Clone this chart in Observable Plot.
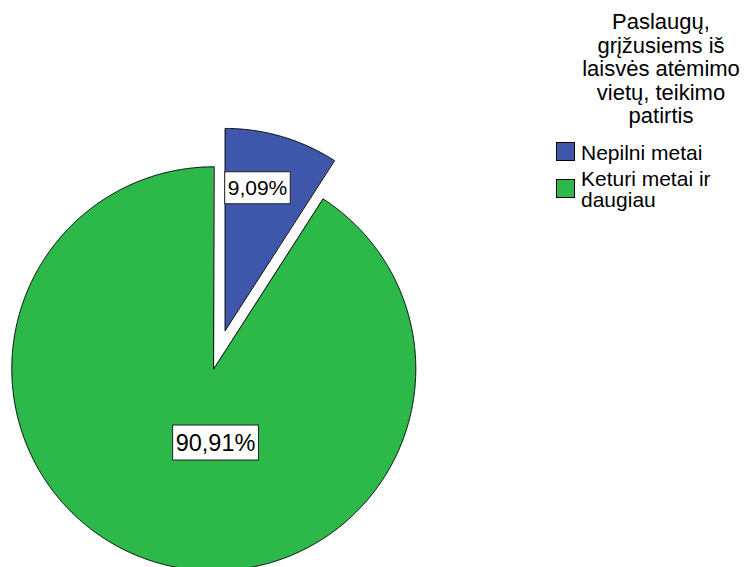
<!DOCTYPE html>
<html>
<head>
<meta charset="utf-8">
<script src="https://cdn.jsdelivr.net/npm/d3@7"></script>
<script src="https://cdn.jsdelivr.net/npm/@observablehq/plot@0.6"></script>
<style>
  html, body { margin: 0; padding: 0; background: #fff; }
  #wrap { position: relative; width: 748px; height: 567px; overflow: hidden;
          font-family: "Liberation Sans", Arial, sans-serif; color: #000; }
  #chart { position: absolute; left: 0; top: 0; }
  .ltitle { position: absolute; left: 571px; top: 10px; width: 180px; text-align: center;
            font-size: 22px; line-height: 23.5px; }
  .swatch { position: absolute; width: 17px; height: 17px; border: 1px solid #000; }
  .litem { position: absolute; left: 581px; width: 165px; font-size: 21px; line-height: 21px; }
</style>
</head>
<body>
<div id="wrap">
  <div id="chart"></div>
  <div id="legend"></div>
</div>
<script>
// ---- data ----
const categories = ["Nepilni metai", "Keturi metai ir daugiau"];
const percents = [9.09, 90.91];
const percentLabels = ["9,09%", "90,91%"];
const colors = ["#3f57aa", "#2db84a"];
const explode = [true, false];
const legendTitle = "Paslaugų, grįžusiems iš laisvės atėmimo vietų, teikimo patirtis";

// ---- layout ----
const W = 748, H = 567;
const CX = 213.3, CY = 368.3;     // pie centre in pixels
const R = 202, EXPLODE_DIST = 40;
const labelOffsets = [[32.4, 141.9], [1.7, -74.2]]; // label anchor relative to slice apex
const labelSizes = [21, 23.5];

const slices = d3.pie().sort(null).value(d => d.value)
  (categories.map((c, i) => ({cat: c, value: percents[i], i})));
const polar = (r, a) => [r * Math.sin(a), r * Math.cos(a)];

const pts = [];
const labels = [];
slices.forEach(s => {
  const i = s.data.i, cat = s.data.cat;
  const mid = (s.startAngle + s.endAngle) / 2;
  const [ox, oy] = explode[i] ? polar(EXPLODE_DIST, mid) : [0, 0];
  pts.push({cat, x: ox, y: oy});
  const n = Math.ceil((s.endAngle - s.startAngle) / (Math.PI / 720));
  for (let k = 0; k <= n; k++) {
    const a = s.startAngle + (s.endAngle - s.startAngle) * k / n;
    const [px, py] = polar(R, a);
    pts.push({cat, x: ox + px, y: oy + py});
  }
  labels.push({text: percentLabels[i], x: ox + labelOffsets[i][0], y: oy + labelOffsets[i][1], size: labelSizes[i]});
});

const plot = Plot.plot({
  width: W, height: H,
  margin: 0,
  style: {fontFamily: '"Liberation Sans", Arial, sans-serif', background: "white"},
  x: {domain: [-CX, W - CX], range: [0, W], axis: null},
  y: {domain: [CY - H, CY], range: [H, 0], axis: null},
  color: {domain: categories, range: colors},
  marks: [
    Plot.line(pts, {x: "x", y: "y", z: "cat", fill: "cat", stroke: "black", strokeWidth: 1, curve: "linear-closed"}),
    Plot.text(labels, {x: "x", y: "y", text: "text", fontSize: "size", fill: "black", textAnchor: "middle"})
  ]
});
document.getElementById("chart").appendChild(plot);

// white label boxes behind the percentage texts
const NS = "http://www.w3.org/2000/svg";
plot.querySelectorAll('g[aria-label="text"] text').forEach(t => {
  const b = t.getBBox();
  const r = document.createElementNS(NS, "rect");
  r.setAttribute("x", b.x - 3);
  r.setAttribute("y", b.y - 4.5);
  r.setAttribute("width", b.width + 6);
  r.setAttribute("height", b.height + 9);
  r.setAttribute("fill", "white");
  r.setAttribute("stroke", "#222");
  r.setAttribute("stroke-width", 1);
  if (t.getAttribute("transform")) r.setAttribute("transform", t.getAttribute("transform"));
  t.parentNode.insertBefore(r, t);
});

// legend
const legend = document.getElementById("legend");
const title = document.createElement("div");
title.className = "ltitle";
title.textContent = legendTitle;
legend.appendChild(title);
const itemTops = [141.5, 168.2];
const swatchTops = [142, 179];
categories.forEach((c, i) => {
  const sw = document.createElement("div");
  sw.className = "swatch";
  sw.style.left = "556px";
  sw.style.top = swatchTops[i] + "px";
  sw.style.background = colors[i];
  legend.appendChild(sw);
  const tx = document.createElement("div");
  tx.className = "litem";
  tx.style.top = itemTops[i] + "px";
  tx.textContent = c;
  legend.appendChild(tx);
});
</script>
</body>
</html>
